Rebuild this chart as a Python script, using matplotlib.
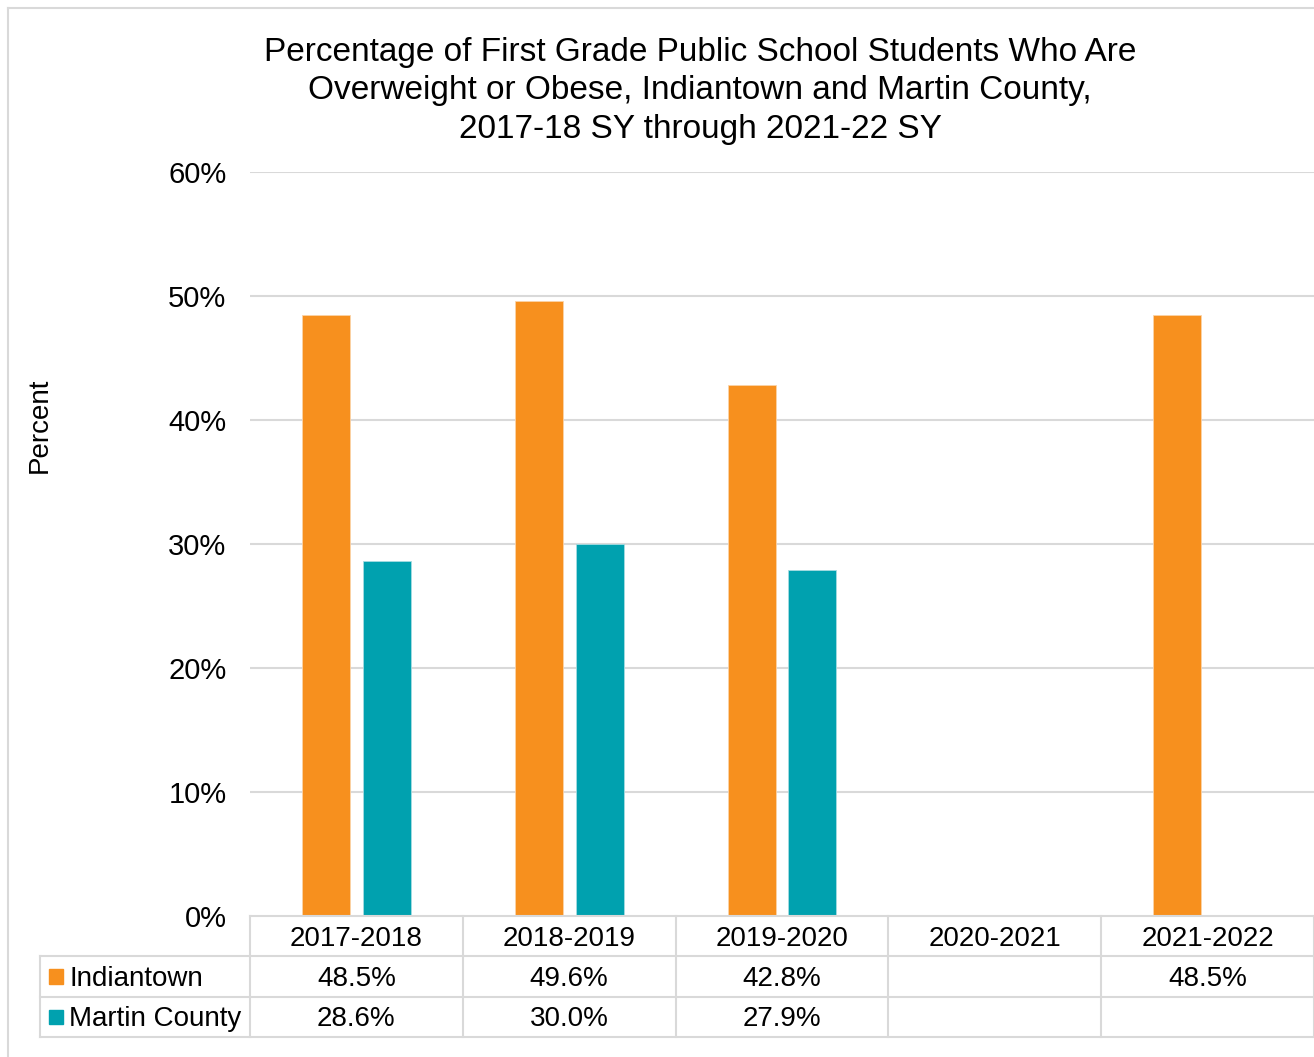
import numpy as np
import matplotlib.pyplot as plt
from matplotlib.lines import Line2D
from matplotlib.patches import Rectangle

plt.rcParams['font.family'] = ['Liberation Sans', 'DejaVu Sans']

# School years and the share of students overweight or obese (%)
years = ['2017-2018', '2018-2019', '2019-2020', '2020-2021', '2021-2022']
indiantown = [48.5, 49.6, 42.8, np.nan, 48.5]
martin_county = [28.6, 30.0, 27.9, np.nan, np.nan]
series_names = ['Indiantown', 'Martin County']
y_ticks = [0, 10, 20, 30, 40, 50, 60]

orange = '#F7901E'
teal = '#00A1AF'
grid_c = '#D9D9D9'

W, H = 1314, 1057
fig = plt.figure(figsize=(W / 100, H / 100), dpi=100)

# outer frame of the chart area
fig.add_artist(Line2D([8 / W, 8 / W], [0, 1 - 8 / H], color=grid_c, lw=1.5))
fig.add_artist(Line2D([8 / W, 1], [1 - 8 / H, 1 - 8 / H], color=grid_c, lw=1.5))

# main plot area
ax = fig.add_axes([250 / W, 141 / H, 1064 / W, 744 / H])
x = np.arange(len(years))
bw = 0.225
off = 0.143
ax.bar(x - off, indiantown, bw, color=orange, edgecolor='#FBD3A8', linewidth=0.6)
ax.bar(x + off, martin_county, bw, color=teal, edgecolor='#A6DCE1', linewidth=0.6)

ax.set_xlim(-0.5, len(years) - 0.5)
ax.set_ylim(0, 60)
ax.set_yticks(y_ticks)
ax.set_yticklabels([f'{t}%' for t in y_ticks], fontsize=21)
ax.tick_params(axis='y', length=0, pad=17)
ax.set_xticks([])
for t in y_ticks[1:]:
    ax.axhline(t, color=grid_c, lw=1.5, zorder=0)
for s in ax.spines.values():
    s.set_visible(False)

fig.text(40 / W, 1 - 425 / H, 'Percent', rotation=90, ha='center', va='center', fontsize=20)

fig.text(700 / W, 1 - 91 / H,
         'Percentage of First Grade Public School Students Who Are\n'
         'Overweight or Obese, Indiantown and Martin County,\n'
         '2017-18 SY through 2021-22 SY',
         ha='center', va='center', fontsize=24, linespacing=1.3)

# data table underneath the bars
cw = 212.8
left_w = 210 / cw
tax = fig.add_axes([40 / W, 20 / H, (W - 40) / W, 121 / H])
tax.set_xlim(-0.5 - left_w, len(years) - 0.5)
tax.set_ylim(3, 0)
tax.axis('off')

xl = -0.5 - left_w
xr = len(years) - 0.5
for r in [0, 1, 2, 3]:
    x0 = -0.5 if r == 0 else xl
    tax.plot([x0, xr], [r, r], color=grid_c, lw=1.5, clip_on=False)
for k in range(len(years) + 1):
    tax.plot([k - 0.5, k - 0.5], [0, 3], color=grid_c, lw=1.5, clip_on=False)
tax.plot([xl, xl], [1, 3], color=grid_c, lw=1.5, clip_on=False)

ty = 0.56  # vertical position of text within a row
for i, yr in enumerate(years):
    tax.text(i, ty, yr, ha='center', va='center', fontsize=20)

for row, (name, vals, c) in enumerate(zip(series_names, [indiantown, martin_county], [orange, teal]), start=1):
    tax.add_patch(Rectangle((xl + 9 / cw, row + 0.5 - 0.18), 14 / cw, 0.36,
                            color=c, clip_on=False))
    tax.text(xl + 29 / cw, row + ty, name, ha='left', va='center', fontsize=20)
    for i, v in enumerate(vals):
        if not np.isnan(v):
            tax.text(i, row + ty, f'{v:.1f}%', ha='center', va='center', fontsize=20)

fig.savefig('out.png', dpi=100)
